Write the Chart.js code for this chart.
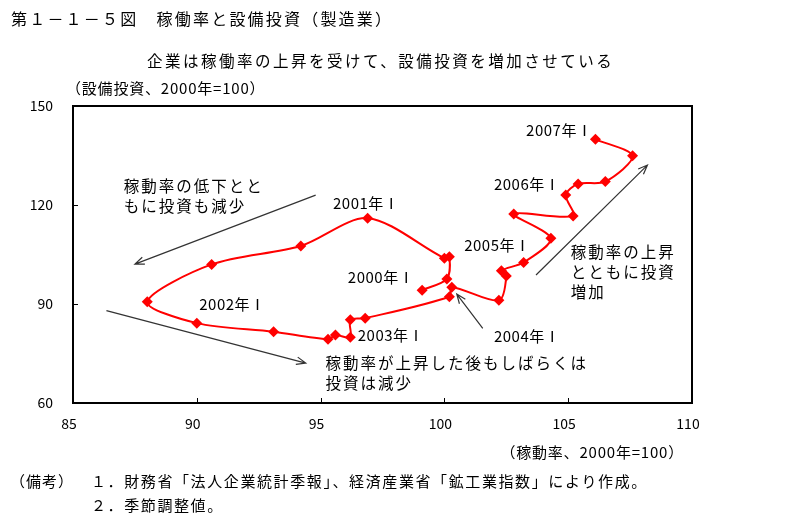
<!DOCTYPE html>
<html>
<head>
<meta charset="utf-8">
<script src="https://cdn.jsdelivr.net/npm/chart.js@4.4.1/dist/chart.umd.min.js"></script>
<style>
  html, body { margin: 0; padding: 0; background: #fff; }
</style>
</head>
<body>
<canvas id="chart" width="795" height="520"></canvas>
<script>
// 四半期（2000年Ⅰ〜2007年Ⅰ）
const quarters = [
  '2000Q1','2000Q2','2000Q3','2000Q4',
  '2001Q1','2001Q2','2001Q3','2001Q4',
  '2002Q1','2002Q2','2002Q3','2002Q4',
  '2003Q1','2003Q2','2003Q3','2003Q4',
  '2004Q1','2004Q2','2004Q3','2004Q4',
  '2005Q1','2005Q2','2005Q3','2005Q4',
  '2006Q1','2006Q2','2006Q3','2006Q4',
  '2007Q1'
];
// 稼動率（2000年=100）
const utilization = [
  99.1, 100.1, 100.2, 100.0,
  96.9, 94.2, 90.6, 88.0,
  90.0, 93.1, 95.3, 95.6,
  96.2, 96.2, 96.8, 100.2,
  100.3, 102.2, 102.5, 102.3,
  103.2, 104.3, 102.8, 105.2,
  104.9, 105.4, 106.5, 107.6,
  106.1
];
// 設備投資（2000年=100）
const investment = [
  94.2, 97.6, 104.3, 103.9,
  116.0, 107.6, 102.0, 90.7,
  84.2, 81.6, 79.3, 80.6,
  79.9, 85.2, 85.7, 92.2,
  95.1, 91.1, 98.5, 100.1,
  102.6, 109.9, 117.3, 116.7,
  123.0, 126.4, 127.1, 134.9,
  139.9
];
const xTicks = [85, 90, 95, 100, 105, 110];
const yTicks = [60, 90, 120, 150];

const JP = '"Noto Sans CJK JP", "Noto Sans", sans-serif';

// 注記（データ座標で配置）
const yearLabels = [
  { text: '2000年Ⅰ', x: 96.1, y: 98.2 },
  { text: '2001年Ⅰ', x: 95.5, y: 120.6 },
  { text: '2002年Ⅰ', x: 90.1, y: 90.0 },
  { text: '2003年Ⅰ', x: 96.5, y: 80.6 },
  { text: '2004年Ⅰ', x: 102.0, y: 80.3 },
  { text: '2005年Ⅰ', x: 100.8, y: 107.9 },
  { text: '2006年Ⅰ', x: 102.0, y: 126.4 },
  { text: '2007年Ⅰ', x: 103.3, y: 142.7 }
];
const comments = [
  { lines: ['稼動率の低下とと', 'もに投資も減少'], x: 87.05, y: 125.8 },
  { lines: ['稼動率の上昇', 'とともに投資', '増加'], x: 105.1, y: 105.8 },
  { lines: ['稼動率が上昇した後もしばらくは', '投資は減少'], x: 95.2, y: 72.1 }
];
const arrows = [
  { from: [94.8, 123.0], to: [87.5, 102.1] },
  { from: [86.35, 88.0], to: [94.4, 72.1] },
  { from: [103.7, 98.8], to: [108.2, 132.1] },
  { from: [101.55, 82.6], to: [100.5, 93.0] }
];

function drawText(ctx, str, x, y, size, align, spacing) {
  ctx.save();
  ctx.font = size + 'px ' + JP;
  ctx.fillStyle = '#000';
  ctx.textAlign = align || 'left';
  ctx.textBaseline = 'middle';
  ctx.letterSpacing = (spacing || 0) + 'px';
  ctx.fillText(str, x, y);
  ctx.restore();
}

function drawArrow(ctx, x1, y1, x2, y2) {
  const ang = Math.atan2(y2 - y1, x2 - x1);
  const len = 10, spread = 0.38;
  ctx.save();
  ctx.strokeStyle = '#333';
  ctx.lineWidth = 1.2;
  ctx.beginPath();
  ctx.moveTo(x1, y1);
  ctx.lineTo(x2, y2);
  ctx.moveTo(x2 - len * Math.cos(ang - spread), y2 - len * Math.sin(ang - spread));
  ctx.lineTo(x2, y2);
  ctx.lineTo(x2 - len * Math.cos(ang + spread), y2 - len * Math.sin(ang + spread));
  ctx.stroke();
  ctx.restore();
}

const decorations = {
  id: 'decorations',
  afterDatasetsDraw(chart) {
    const { ctx, chartArea: a, scales: { x, y } } = chart;

    // 枠と内向きの目盛
    ctx.save();
    ctx.strokeStyle = '#000';
    ctx.lineWidth = 2;
    ctx.strokeRect(a.left, a.top, a.right - a.left, a.bottom - a.top);
    ctx.lineWidth = 1;
    ctx.beginPath();
    xTicks.slice(1, -1).forEach(v => {
      const px = Math.round(x.getPixelForValue(v)) + 0.5;
      ctx.moveTo(px, a.bottom);
      ctx.lineTo(px, a.bottom - 5);
    });
    yTicks.slice(1, -1).forEach(v => {
      const py = Math.round(y.getPixelForValue(v)) + 0.5;
      ctx.moveTo(a.left, py);
      ctx.lineTo(a.left + 5, py);
    });
    ctx.stroke();
    ctx.restore();

    arrows.forEach(ar => drawArrow(ctx,
      x.getPixelForValue(ar.from[0]), y.getPixelForValue(ar.from[1]),
      x.getPixelForValue(ar.to[0]), y.getPixelForValue(ar.to[1])));

    yearLabels.forEach(l => drawText(ctx, l.text,
      x.getPixelForValue(l.x), y.getPixelForValue(l.y), 15, 'left', 0.5));

    comments.forEach(c => {
      const px = x.getPixelForValue(c.x), py = y.getPixelForValue(c.y);
      c.lines.forEach((line, i) => drawText(ctx, line, px, py + i * 20, 15.5, 'left', 2));
    });

    // タイトル・軸名・備考
    drawText(ctx, '第１－１－５図　稼働率と設備投資（製造業）', 11, 19, 16, 'left', 2.2);
    drawText(ctx, '企業は稼働率の上昇を受けて、設備投資を増加させている', 147, 61, 15.5, 'left', 2.5);
    drawText(ctx, '（設備投資、2000年=100）', 66, 88, 15, 'left', 0.8);
    drawText(ctx, '（稼動率、2000年=100）', 684, 452, 15, 'right', 0.8);
    drawText(ctx, '（備考）', 10, 481, 15, 'left', 1);
    drawText(ctx, '１．財務省「法人企業統計季報」、経済産業省「鉱工業指数」により作成。', 91, 481, 15, 'left', 1.6);
    drawText(ctx, '２．季節調整値。', 91, 505, 15, 'left', 1.6);
  }
};

const tickFont = { family: JP, size: 14 };

new Chart(document.getElementById('chart'), {
  type: 'scatter',
  data: {
    labels: quarters,
    datasets: [{
      label: '稼動率と設備投資',
      data: utilization.map((v, i) => ({ x: v, y: investment[i] })),
      showLine: true,
      borderColor: '#ff0000',
      borderWidth: 2,
      tension: 0.3,
      pointStyle: 'rectRot',
      pointRadius: 5.5,
      pointBackgroundColor: '#ff0000',
      pointBorderColor: '#ff0000',
      pointBorderWidth: 0
    }]
  },
  options: {
    responsive: false,
    animation: false,
    layout: { padding: { top: 106, right: 103, left: 0, bottom: 0 } },
    plugins: {
      legend: { display: false },
      tooltip: { enabled: false }
    },
    scales: {
      x: {
        type: 'linear',
        min: 85,
        max: 110,
        afterBuildTicks: s => { s.ticks = xTicks.map(v => ({ value: v })); },
        afterFit: s => { s.height = 117; },
        ticks: { padding: 4, labelOffset: -4, color: '#000', font: tickFont, maxRotation: 0 },
        grid: { display: false },
        border: { display: false }
      },
      y: {
        min: 60,
        max: 150,
        afterBuildTicks: s => { s.ticks = yTicks.map(v => ({ value: v })); },
        afterFit: s => { s.width = 73; },
        ticks: { padding: 12, color: '#000', font: tickFont },
        grid: { display: false },
        border: { display: false }
      }
    }
  },
  plugins: [decorations]
});
</script>
</body>
</html>
